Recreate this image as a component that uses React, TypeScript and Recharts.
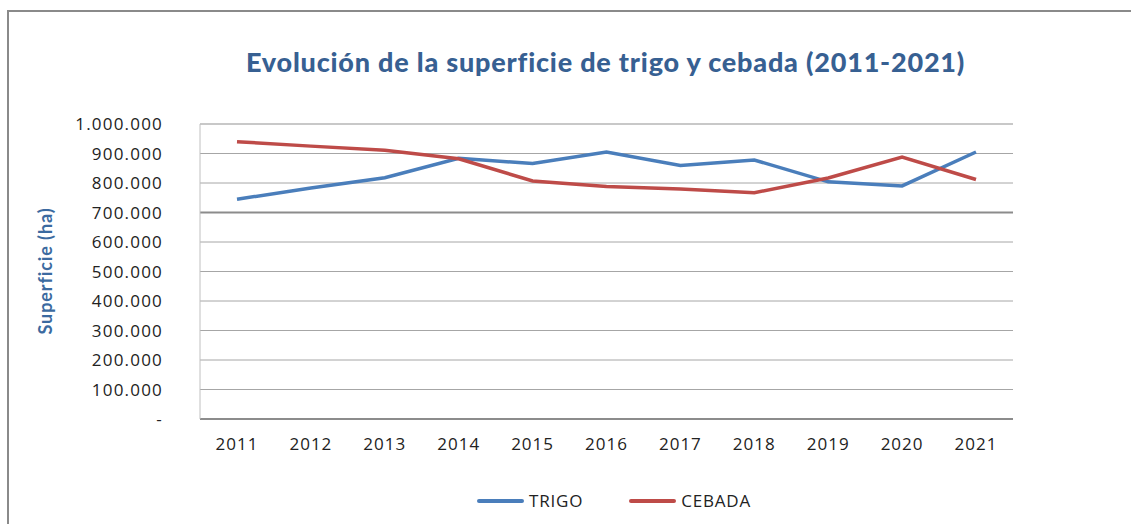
import React from 'react'
import {
  LineChart,
  Line,
  XAxis,
  YAxis,
  CartesianGrid,
  ReferenceLine,
} from 'recharts'

const ANIOS = ['2011', '2012', '2013', '2014', '2015', '2016', '2017', '2018', '2019', '2020', '2021']
const TRIGO = [745000, 783000, 818000, 884000, 866000, 905000, 859000, 878000, 804000, 790000, 905000]
const CEBADA = [940000, 925000, 911000, 882000, 807000, 788000, 780000, 767000, 817000, 888000, 812000]
const TICKS_Y = [0, 100000, 200000, 300000, 400000, 500000, 600000, 700000, 800000, 900000, 1000000]

const AZUL = '#4a7ebb'
const ROJO = '#be4b48'
const COLOR_TITULO = '#376092'

const datos = ANIOS.map((anio, i) => ({ anio, trigo: TRIGO[i], cebada: CEBADA[i] }))

function formatearMiles(v: number): string {
  if (v === 0) return '-'
  return String(v).replace(/\B(?=(\d{3})+(?!\d))/g, '.')
}

function LeyendaPersonalizada() {
  const items = [
    { nombre: 'TRIGO', color: AZUL },
    { nombre: 'CEBADA', color: ROJO },
  ]
  return (
    <div
      style={{
        position: 'absolute',
        left: 477,
        top: 489,
        display: 'flex',
        gap: 46,
        fontFamily: 'Open Sans',
        fontSize: 17,
        lineHeight: '24px',
        letterSpacing: 0.8,
        color: '#222',
      }}
    >
      {items.map(it => (
        <div key={it.nombre} style={{ display: 'flex', alignItems: 'center' }}>
          <div style={{ width: 47, height: 4, background: it.color, borderRadius: 2, marginRight: 5 }} />
          <span>{it.nombre}</span>
        </div>
      ))}
    </div>
  )
}

export default function App() {
  return (
    <div style={{ position: 'absolute', left: 0, top: 0, width: 1131, height: 524, overflow: 'hidden', background: '#fff' }}>
      <div
        style={{
          position: 'absolute',
          left: 7,
          top: 10,
          width: 1300,
          height: 700,
          border: '2px solid #8a8a8a',
        }}
      />
      <div
        style={{
          position: 'absolute',
          left: 40,
          top: 46,
          width: 1131,
          textAlign: 'center',
          fontFamily: 'Lato',
          fontWeight: 900,
          fontSize: 27,
          letterSpacing: 0.8,
          lineHeight: '32px',
          color: COLOR_TITULO,
        }}
      >
        Evolución de la superficie de trigo y cebada (2011-2021)
      </div>
      <div style={{ position: 'absolute', left: 0, top: 0 }}>
        <LineChart width={1131} height={524} data={datos} margin={{ top: 124, right: 118, left: 0, bottom: 75 }}>
          <CartesianGrid vertical={false} stroke="#a6a6a6" />
          <XAxis
            dataKey="anio"
            height={30}
            padding={{ left: 37, right: 37 }}
            tickLine={false}
            axisLine={{ stroke: '#8c8c8c', strokeWidth: 2 }}
            tickSize={6}
            tickMargin={13}
            tick={{ fontFamily: 'Open Sans', fontSize: 17, fill: '#222', letterSpacing: 1 }}
            interval={0}
          />
          <YAxis
            width={200}
            domain={[0, 1000000]}
            ticks={TICKS_Y}
            interval={0}
            tickFormatter={formatearMiles}
            tickLine={false}
            axisLine={{ stroke: '#c0c0c0' }}
            tickSize={6}
            tickMargin={31}
            tick={{ fontFamily: 'Open Sans', fontSize: 17, fill: '#222', letterSpacing: 1.2 }}
            label={{
              content: () => (
                <text
                  x={47}
                  y={271}
                  transform="rotate(-90 47 271)"
                  textAnchor="middle"
                  dominantBaseline="middle"
                  fontFamily="Lato"
                  fontWeight="bold"
                  fontSize={18}
                  letterSpacing={0.9}
                  fill="#3b6aa0"
                >
                  Superficie (ha)
                </text>
              ),
            }}
          />
          <ReferenceLine y={1000000} stroke="#c4c4c4" strokeWidth={1.5} />
          <ReferenceLine y={700000} stroke="#8c8c8c" strokeWidth={2} />
          <Line
            type="linear"
            dataKey="trigo"
            name="TRIGO"
            stroke={AZUL}
            strokeWidth={3.5}
            dot={false}
            isAnimationActive={false}
          />
          <Line
            type="linear"
            dataKey="cebada"
            name="CEBADA"
            stroke={ROJO}
            strokeWidth={3.5}
            dot={false}
            isAnimationActive={false}
          />
        </LineChart>
      </div>
      <LeyendaPersonalizada />
    </div>
  )
}
